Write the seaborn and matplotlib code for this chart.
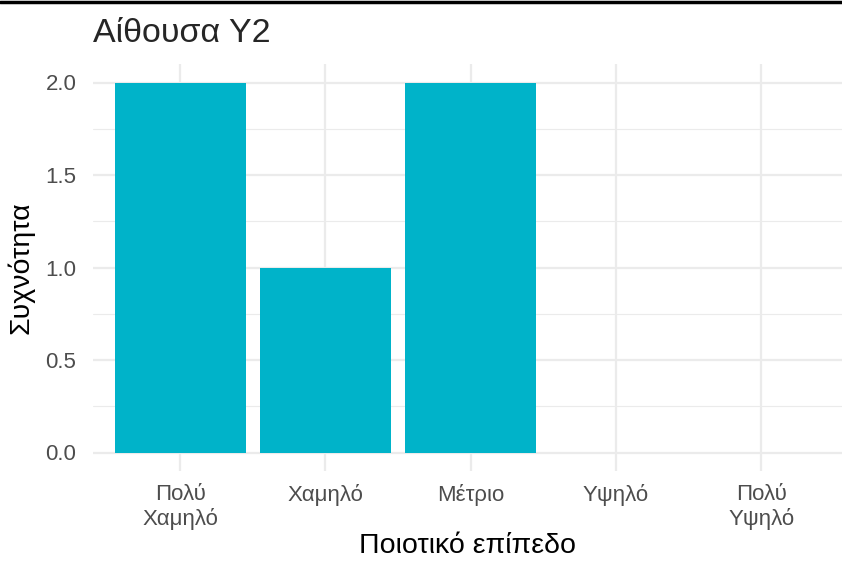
import matplotlib
matplotlib.use("Agg")
import matplotlib.pyplot as plt
from matplotlib.lines import Line2D
from matplotlib.ticker import MultipleLocator
import pandas as pd
import seaborn as sns

levels = ["Πολύ\nΧαμηλό", "Χαμηλό", "Μέτριο", "Υψηλό", "Πολύ\nΥψηλό"]
counts = [2, 1, 2, 0, 0]

title = "Αίθουσα Y2"
x_label = "Ποιοτικό επίπεδο"
y_label = "Συχνότητα"

sns.set_theme(style="white")
plt.rcParams["font.family"] = ["Liberation Sans", "DejaVu Sans"]

df = pd.DataFrame({"level": levels, "count": counts})

fig = plt.figure(figsize=(8.42, 5.61), dpi=100)
ax = fig.add_axes([93 / 842, 1 - 471 / 561, (842 - 93) / 842, (471 - 64) / 561])

sns.barplot(data=df, x="level", y="count", order=levels, color="#00B3C9",
            saturation=1, width=0.9, linewidth=0, ax=ax, zorder=3)

ax.set_xlim(-0.6, 4.555)
ax.set_ylim(-0.1, 2.1)
ax.yaxis.set_major_locator(MultipleLocator(0.5))
ax.yaxis.set_minor_locator(MultipleLocator(0.25))
ax.grid(which="major", color="#EBEBEB", linewidth=1.6, zorder=0)
ax.grid(which="minor", axis="y", color="#EBEBEB", linewidth=0.8, zorder=0)
ax.set_axisbelow(True)
for s in ax.spines.values():
    s.set_visible(False)
ax.tick_params(axis="both", which="both", length=0, labelsize=16,
               labelcolor="#4D4D4D")
ax.tick_params(axis="y", pad=12)
ax.tick_params(axis="x", pad=9)
ax.set_yticks([0, 0.5, 1.0, 1.5, 2.0])
ax.set_yticklabels(["0.0", "0.5", "1.0", "1.5", "2.0"])
ax.set_xlabel(x_label, fontsize=20.5, color="black", labelpad=2)
ax.set_ylabel(y_label, fontsize=20.5, color="black", labelpad=8)
fig.text(93 / 842, 1 - 33 / 561, title, fontsize=24.5, va="center", ha="left")

# border line at the very top of the crop
fig.add_artist(Line2D([0, 1], [1 - 2 / 561, 1 - 2 / 561], color="black",
                      linewidth=2.5, transform=fig.transFigure))

fig.savefig("out.png", dpi=100)
